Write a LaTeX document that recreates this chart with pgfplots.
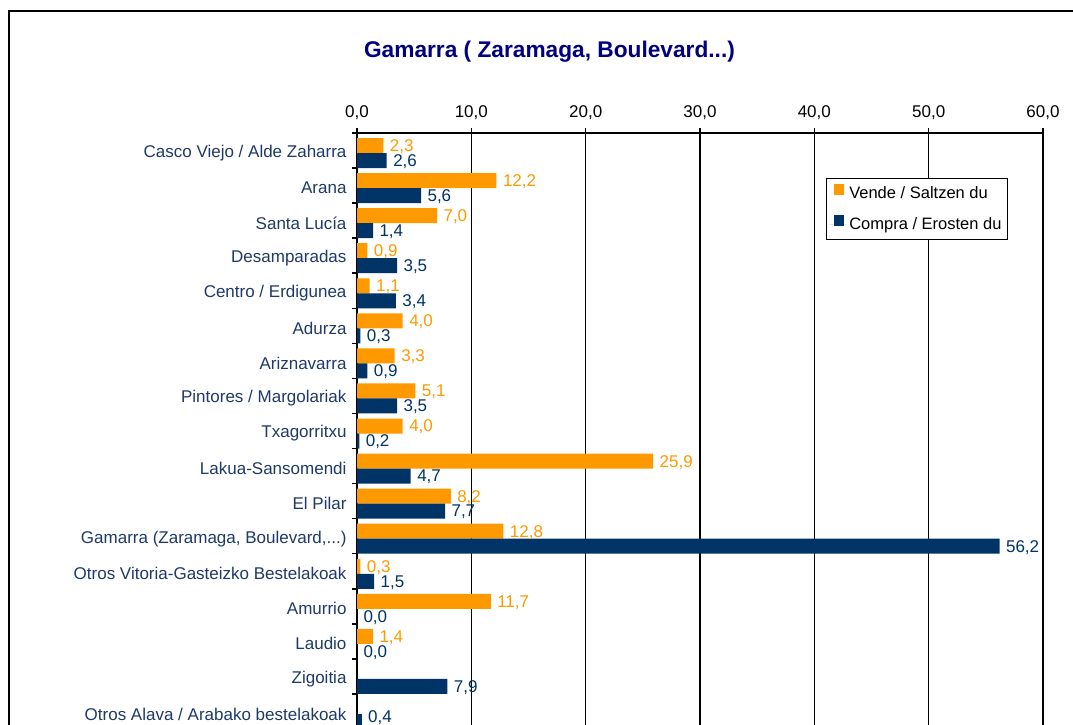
\documentclass[border=0pt]{standalone}
\usepackage{fontspec}
\setmainfont{Liberation Sans}
\usepackage{pgfplots}
\pgfplotsset{compat=1.18}
\definecolor{vorange}{HTML}{FF9900}
\definecolor{cnavy}{HTML}{003366}
\definecolor{lnavy}{HTML}{1F3A68}
\definecolor{tnavy}{HTML}{000080}
\begin{document}
\begin{tikzpicture}[x=1pt,y=1pt]
\useasboundingbox (0,0) rectangle (1073,724);
\clip (0,0) rectangle (1073,724);
\fill[white] (0,0) rectangle (1073,724);
\draw[line width=2pt] (9,712.5) rectangle (1100,-100);
\node[text=tnavy, font=\fontsize{22.7}{26}\selectfont\bfseries] at (549.5,672.5) {Gamarra ( Zaramaga, Boulevard...)};
\begin{axis}[
  at={(357pt,591pt)}, anchor=north west,
  scale only axis, width=686pt, height=701.2pt,
  xbar, y dir=reverse,
  xmin=0, xmax=60, ymin=-0.5, ymax=19.5,
  xtick={0,10,...,60},
  xtick pos=top, xticklabel pos=top,
  ytick pos=left,
  xmajorgrids, major grid style={black, line width=1.2pt},
  axis line style={black, line width=2pt},
  tick align=outside,
  major tick length=5pt, minor tick length=5pt,
  tick style={black, line width=1.5pt},
  ytick={0,...,16},
  major y tick style={draw=none},
  minor ytick={-0.5,0.5,...,19.5},
  yticklabels={Casco Viejo / Alde Zaharra, Arana, Santa Luc\'ia, Desamparadas, Centro / Erdigunea, Adurza, Ariznavarra, Pintores / Margolariak, Txagorritxu, Lakua-Sansomendi, El Pilar, {Gamarra (Zaramaga, Boulevard,.{}.{}.)}, Otros Vitoria-Gasteizko Bestelakoak, Amurrio, Laudio, Zigoitia, Otros Alava / Arabako bestelakoak},
  yticklabel style={text=lnavy, font=\fontsize{17}{20}\selectfont, xshift=-2pt, yshift=-2.5pt},
  xticklabel style={text=black, font=\fontsize{17}{20}\selectfont, yshift=5pt},
  /pgf/number format/assume math mode=true,
  xticklabel={\pgfmathprintnumber[fixed,fixed zerofill,precision=1,use comma]{\tick}},
  bar width=15pt,
  point meta=x,
  nodes near coords={\pgfmathprintnumber[fixed,fixed zerofill,precision=1,use comma]{\pgfplotspointmeta}},
  nodes near coords style={anchor=west, font=\fontsize{17}{20}\selectfont, xshift=3pt, text depth=0pt},
  legend style={at={(0.949,0.9358)}, anchor=north east, draw=black, line width=1pt, fill=white,
    font=\fontsize{16.5}{20}\selectfont, inner xsep=3pt, inner ysep=4pt, row sep=9pt,
    nodes={inner xsep=3pt, inner ysep=3pt, text height=12.5pt, text depth=3.5pt}},
  legend cell align=left,
  legend image code/.code={\path (0pt,0pt) -- (16.5pt,0pt); \fill[#1] (4pt,-1pt) rectangle (14.5pt,9.5pt);},
]
\addplot[fill=vorange, draw=none, bar shift=5pt, nodes near coords style={text=vorange}] coordinates {
(2.3,0) (12.2,1) (7.0,2) (0.9,3) (1.1,4) (4.0,5) (3.3,6) (5.1,7) (4.0,8) (25.9,9) (8.2,10) (12.8,11) (0.3,12) (11.7,13) (1.4,14)};
\addlegendentry{Vende / Saltzen du}
\addplot[fill=cnavy, draw=none, bar shift=-10pt, nodes near coords style={text=cnavy}] coordinates {
(2.6,0) (5.6,1) (1.4,2) (3.5,3) (3.4,4) (0.3,5) (0.9,6) (3.5,7) (0.2,8) (4.7,9) (7.7,10) (56.2,11) (1.5,12) (0.0,13) (0.0,14) (7.9,15)};
\addlegendentry{Compra / Erosten du}
\addplot[forget plot, fill=cnavy, draw=none, bar shift=-10pt, nodes near coords style={text=cnavy, yshift=5pt}] coordinates {
(0.4,16)};
\end{axis}
\end{tikzpicture}
\end{document}
